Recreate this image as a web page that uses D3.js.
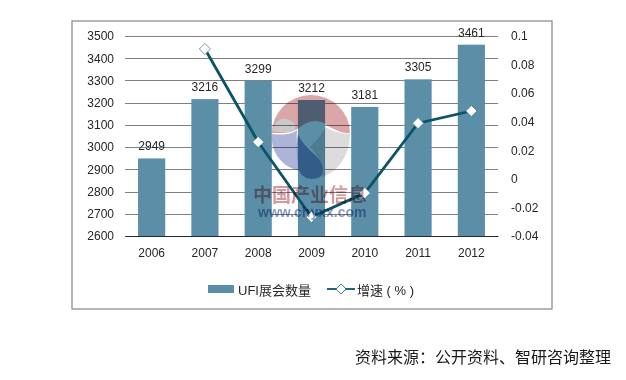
<!DOCTYPE html>
<html lang="zh">
<head>
  <meta charset="UTF-8"/>
  <title>UFI展会数量及增速</title>
  <script src="https://d3js.org/d3.v7.min.js"></script>
  <style>
    html, body { margin: 0; padding: 0; background: #fff; }
    svg { display: block; }
    text { font-family: "Liberation Sans", Arial, sans-serif; fill: #262626; }
    .cjk { font-family: "Liberation Sans", "Noto Sans CJK SC", sans-serif; }
  </style>
</head>
<body>
<script>
  var years = ["2006", "2007", "2008", "2009", "2010", "2011", "2012"];
  var counts = [2949, 3216, 3299, 3212, 3181, 3305, 3461];
  var growth = [null, 0.0909, 0.0258, -0.0267, -0.0099, 0.039, 0.0475];
  var leftTicks = [2600, 2700, 2800, 2900, 3000, 3100, 3200, 3300, 3400, 3500];
  var rightTicks = [-0.04, -0.02, 0, 0.02, 0.04, 0.06, 0.08, 0.1];

  var w = 626;
  var h = 380;
  var plotLeft = 125, plotRight = 498, plotTop = 36, plotBottom = 236;
  var barColor = "#5b8fa8";
  var lineColor = "#0b5468";

  var xScale = d3.scaleBand().domain(years).range([plotLeft, plotRight]).paddingInner(0.49).paddingOuter(0.245);
  var yScale = d3.scaleLinear().domain([2600, 3500]).range([plotBottom, plotTop]);
  var y2Scale = d3.scaleLinear().domain([-0.04, 0.1]).range([plotBottom, plotTop]);
  var cx = function(y) { return xScale(y) + xScale.bandwidth() / 2; };

  var svg = d3.select("body").append("svg").attr("width", w).attr("height", h);

  // outer frame
  svg.append("rect")
    .attr("x", 72).attr("y", 21).attr("width", 480).attr("height", 288)
    .attr("fill", "#fff").attr("stroke", "#858585").attr("stroke-width", 1.2);

  // gridlines
  var grid = svg.append("g")
    .attr("transform", "translate(" + plotLeft + ",0)")
    .call(d3.axisLeft(yScale).tickValues(leftTicks).tickSize(-(plotRight - plotLeft)).tickFormat(""));
  grid.select(".domain").remove();
  grid.selectAll("line").attr("stroke", "#808080").attr("shape-rendering", "crispEdges");

  // left axis
  var yAxis = svg.append("g")
    .attr("transform", "translate(" + plotLeft + ",0)")
    .call(d3.axisLeft(yScale).tickValues(leftTicks).tickSize(0).tickPadding(11).tickFormat(d3.format("d")));
  yAxis.select(".domain").remove();
  yAxis.selectAll("text").style("font-size", "12px").style("font-family", "Liberation Sans");

  // right axis
  var y2Axis = svg.append("g")
    .attr("transform", "translate(" + plotRight + ",0)")
    .call(d3.axisRight(y2Scale).tickValues(rightTicks).tickSize(0).tickPadding(13).tickFormat(function(d) { return String(+d.toFixed(2)); }));
  y2Axis.select(".domain").remove();
  y2Axis.selectAll("text").style("font-size", "12px").style("font-family", "Liberation Sans");

  // bars
  svg.selectAll("rect.bar")
    .data(counts)
    .enter()
    .append("rect")
    .attr("class", "bar")
    .attr("x", function(d, i) { return xScale(years[i]); })
    .attr("y", function(d) { return yScale(d); })
    .attr("width", xScale.bandwidth())
    .attr("height", function(d) { return plotBottom - yScale(d); })
    .attr("fill", barColor);

  // x axis
  var xAxis = svg.append("g")
    .attr("transform", "translate(0," + plotBottom + ")")
    .call(d3.axisBottom(xScale).tickSize(0).tickPadding(12));
  xAxis.select(".domain").attr("stroke", "#1f2a30").attr("stroke-width", 1.2);
  xAxis.selectAll("text").style("font-size", "12px").style("font-family", "Liberation Sans");

  // bar labels
  svg.selectAll("text.label")
    .data(counts)
    .enter()
    .append("text")
    .attr("class", "label")
    .attr("x", function(d, i) { return cx(years[i]); })
    .attr("y", function(d) { return yScale(d) - 8; })
    .attr("text-anchor", "middle")
    .style("font-size", "12px")
    .text(function(d) { return d; });

  // growth line
  var line = d3.line()
    .defined(function(d) { return d !== null; })
    .x(function(d, i) { return cx(years[i]); })
    .y(function(d) { return y2Scale(d); });

  svg.append("path")
    .attr("d", line(growth))
    .attr("fill", "none")
    .attr("stroke", lineColor)
    .attr("stroke-width", 2.8);

  var diamond = d3.symbol().type(d3.symbolDiamond2).size(80);

  svg.selectAll("path.marker")
    .data(growth.filter(function(d) { return d !== null; }))
    .enter()
    .append("path")
    .attr("class", "marker")
    .attr("d", diamond)
    .attr("transform", function(d) { return "translate(" + cx(years[growth.indexOf(d)]) + "," + y2Scale(d) + ")"; })
    .attr("fill", "#fff")
    .attr("stroke", "#4f8096")
    .attr("stroke-width", 0.8);

  // watermark
  var mark = svg.append("g").style("mix-blend-mode", "multiply");
  mark.append("path")
    .attr("d", "M272,133 A39,38 0 0 1 350,133 C344,134 334,130 325,124 C316,118 306,122 299,128 C290,134 280,133 272,133 Z")
    .attr("fill", "#dba6a8");
  mark.append("path")
    .attr("d", "M275,124 C280,117 288,117 295,124 C296,128 295,131 291,132 C284,133 278,132 273,131 Z")
    .attr("fill", "#c9c9c9");
  mark.append("path")
    .attr("d", "M272,134 C282,135 291,135 297,130 C296,145 298,158 303,171 C286,170 270,155 272,134 Z")
    .attr("fill", "#aeb3d8");
  mark.append("path")
    .attr("d", "M325,127 C332,131 342,134 350,134 C350,155 338,172 322,177 C323,165 318,155 310,147 C316,141 322,135 325,127 Z")
    .attr("fill", "#dcdcdc");
  mark.append("path")
    .attr("d", "M298,134 C301,142 308,148 315,155 C323,162 326,172 320,177 C312,181 302,179 299,170 C296,158 296,146 298,134 Z")
    .attr("fill", "#8ea6cf");
  mark.append("text")
    .attr("class", "cjk")
    .attr("x", 253).attr("y", 202)
    .style("font-size", "19px").style("font-weight", "bold")
    .style("fill", "#b3424a").style("fill-opacity", 0.55)
    .text("中国产业信息");
  mark.append("text")
    .attr("x", 258).attr("y", 217)
    .style("font-size", "14px").style("font-weight", "bold")
    .style("fill", "#3f56a8").style("fill-opacity", 0.6)
    .text("www.chyxx.com");

  // legend
  svg.append("rect")
    .attr("x", 208).attr("y", 285).attr("width", 26).attr("height", 8)
    .attr("fill", barColor);
  svg.append("text")
    .attr("class", "cjk")
    .attr("x", 238).attr("y", 295)
    .style("font-size", "13px")
    .text("UFI展会数量");
  svg.append("line")
    .attr("x1", 327).attr("x2", 355).attr("y1", 289).attr("y2", 289)
    .attr("stroke", lineColor).attr("stroke-width", 1.8);
  svg.append("path")
    .attr("d", d3.symbol().type(d3.symbolDiamond2).size(65))
    .attr("transform", "translate(341,289)")
    .attr("fill", "#fff")
    .attr("stroke", lineColor)
    .attr("stroke-width", 0.8);
  svg.append("text")
    .attr("class", "cjk")
    .attr("x", 357).attr("y", 295)
    .style("font-size", "13px")
    .text("增速 ( % )");

  // source note
  svg.append("text")
    .attr("class", "cjk")
    .attr("x", 355).attr("y", 363)
    .style("font-size", "16px")
    .style("fill", "#1a1a1a")
    .text("资料来源：公开资料、智研咨询整理");
</script>
</body>
</html>
